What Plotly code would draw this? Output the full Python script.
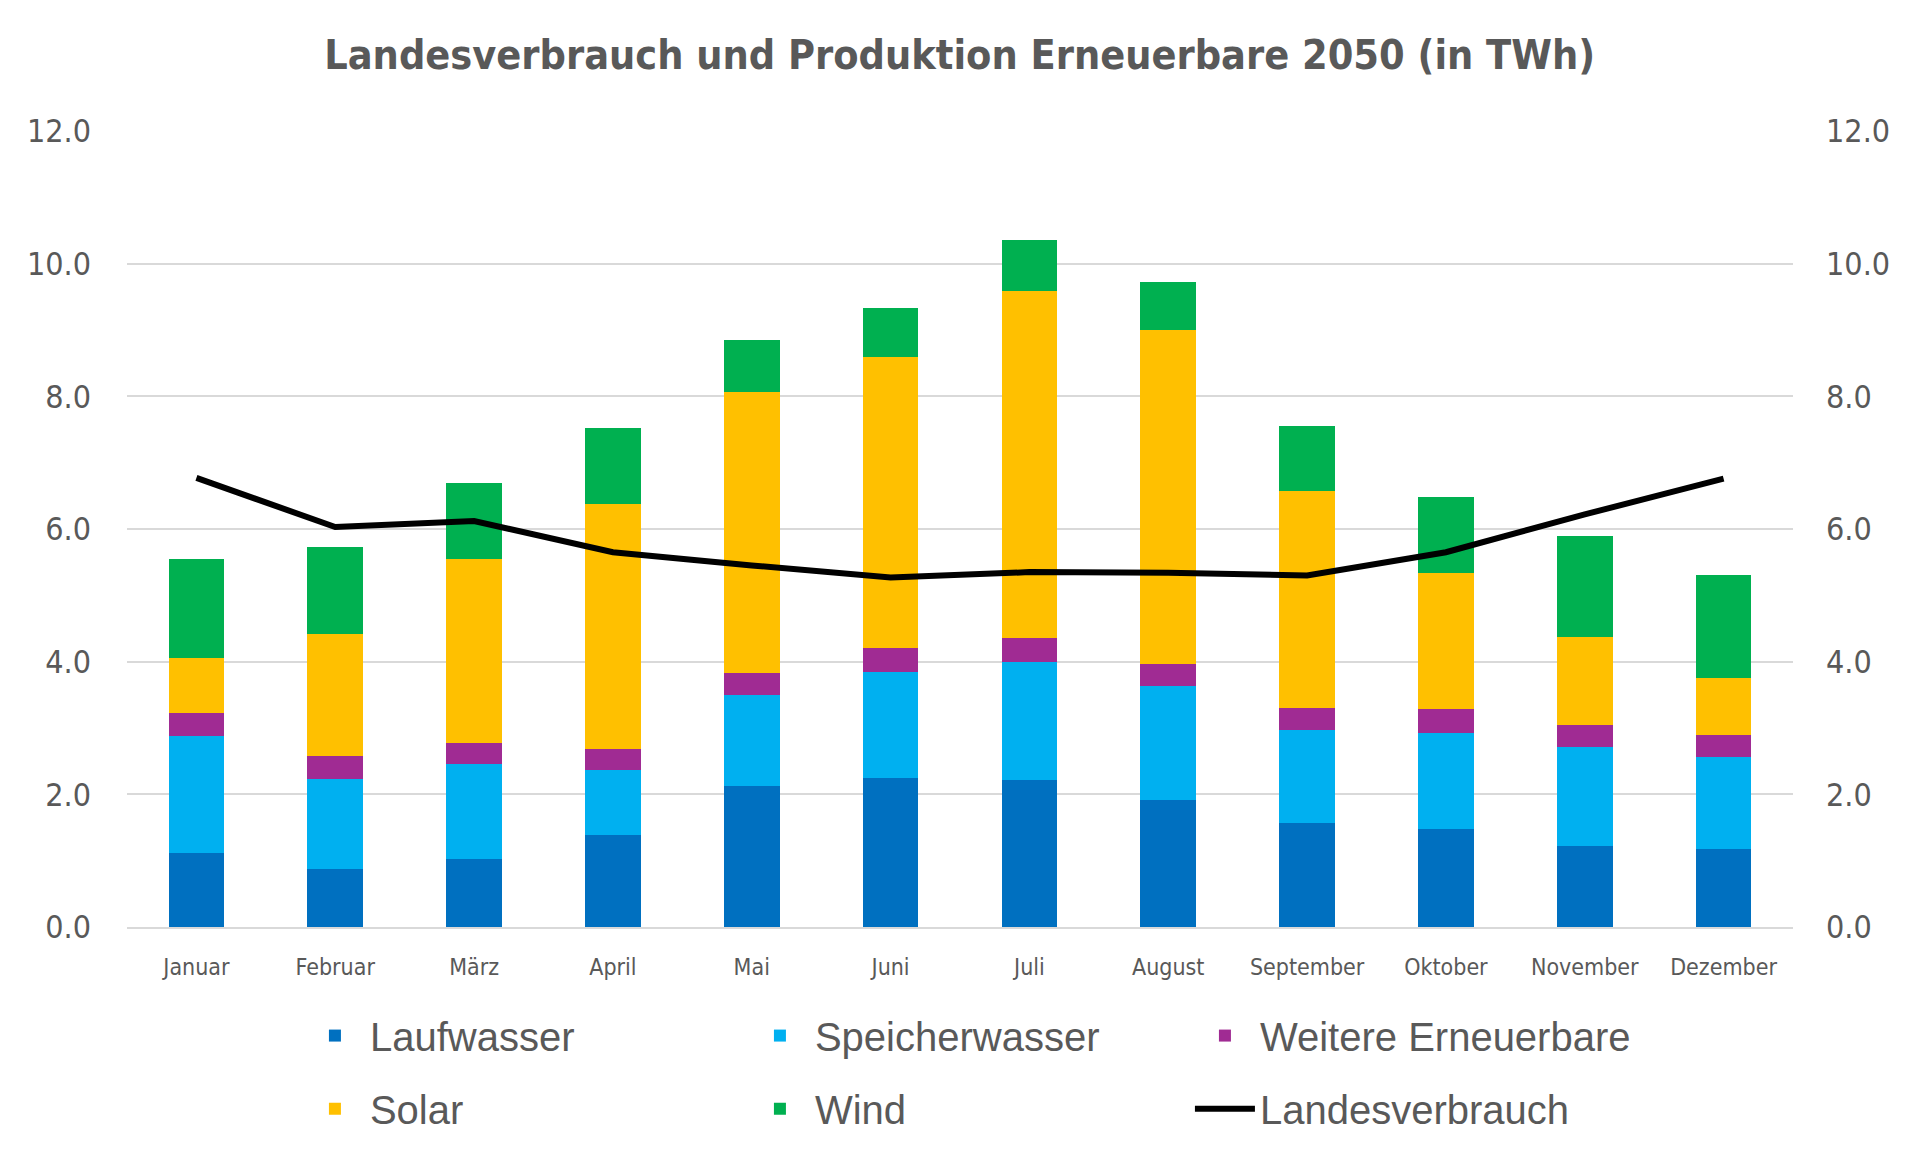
import plotly.graph_objects as go

months = ["Januar", "Februar", "März", "April", "Mai", "Juni", "Juli",
          "August", "September", "Oktober", "November", "Dezember"]

laufwasser = [1.12, 0.88, 1.03, 1.38, 2.12, 2.25, 2.21, 1.92, 1.57, 1.47, 1.22, 1.18]
speicherwasser = [1.76, 1.35, 1.42, 0.98, 1.38, 1.60, 1.79, 1.71, 1.40, 1.46, 1.49, 1.38]
weitere = [0.35, 0.35, 0.33, 0.33, 0.33, 0.35, 0.35, 0.33, 0.33, 0.35, 0.33, 0.33]
solar = [0.83, 1.83, 2.77, 3.69, 4.24, 4.39, 5.24, 5.04, 3.28, 2.05, 1.33, 0.87]
wind = [1.49, 1.32, 1.14, 1.14, 0.78, 0.74, 0.77, 0.73, 0.98, 1.16, 1.53, 1.55]
landesverbrauch = [6.77, 6.03, 6.12, 5.65, 5.45, 5.27, 5.35, 5.34, 5.30, 5.65, 6.22, 6.76]

y_ticks = [0, 2, 4, 6, 8, 10, 12]

narrow = "Liberation Sans Narrow, DejaVu Sans Condensed, Roboto, sans-serif"
grey = "#595959"

# (name, values, colour, legend row)
bar_series = [
    ("Laufwasser", laufwasser, "#0070C0", "legend"),
    ("Speicherwasser", speicherwasser, "#00B0F0", "legend"),
    ("Weitere Erneuerbare", weitere, "#A02B93", "legend"),
    ("Solar", solar, "#FFC000", "legend2"),
    ("Wind", wind, "#00B050", "legend2"),
]

fig = go.Figure()

for name, values, color, leg in bar_series:
    fig.add_trace(go.Bar(
        x=months, y=values, name=name, legend=leg,
        marker=dict(color=color, line=dict(width=0)),
    ))

fig.add_trace(go.Scatter(
    x=months, y=landesverbrauch, name="Landesverbrauch",
    mode="lines", yaxis="y2", legend="legend2",
    line=dict(color="black", width=6),
))

axis_common = dict(
    range=[0, 12],
    tickvals=y_ticks,
    tickformat=".1f",
    tickfont=dict(family=narrow, size=32, color=grey),
)

legend_common = dict(
    orientation="h",
    x=0.1038, xanchor="left",
    yanchor="middle",
    entrywidthmode="pixels", entrywidth=370,
    font=dict(family="Liberation Sans, Arial, sans-serif", size=40, color=grey),
    traceorder="normal",
    itemwidth=60,
    bgcolor="rgba(0,0,0,0)",
)

fig.update_layout(
    width=1911,
    height=1157,
    barmode="stack",
    bargap=0.6,
    plot_bgcolor="white",
    paper_bgcolor="white",
    margin=dict(l=119, r=126, t=123, b=238),
    title=dict(
        text="<b>Landesverbrauch und Produktion Erneuerbare 2050 (in TWh)</b>",
        x=0.498, xanchor="center", y=1 - 47 / 1157, yanchor="middle",
        font=dict(family=narrow, size=41, color=grey),
    ),
    xaxis=dict(
        tickfont=dict(family=narrow, size=23, color=grey),
        showgrid=False,
        showline=True, linecolor="#D9D9D9", linewidth=2,
        ticklabelstandoff=18,
    ),
    yaxis=dict(
        **axis_common,
        showgrid=True, gridcolor="#D9D9D9", gridwidth=2,
        zeroline=False,
        ticklabelstandoff=35,
    ),
    yaxis2=dict(
        **axis_common,
        overlaying="y", side="right",
        showgrid=False, zeroline=False,
        ticklabelstandoff=32,
    ),
    legend=dict(**legend_common, y=-0.1364),
    legend2=dict(**legend_common, y=-0.2282),
)

fig.write_html("out.html")
